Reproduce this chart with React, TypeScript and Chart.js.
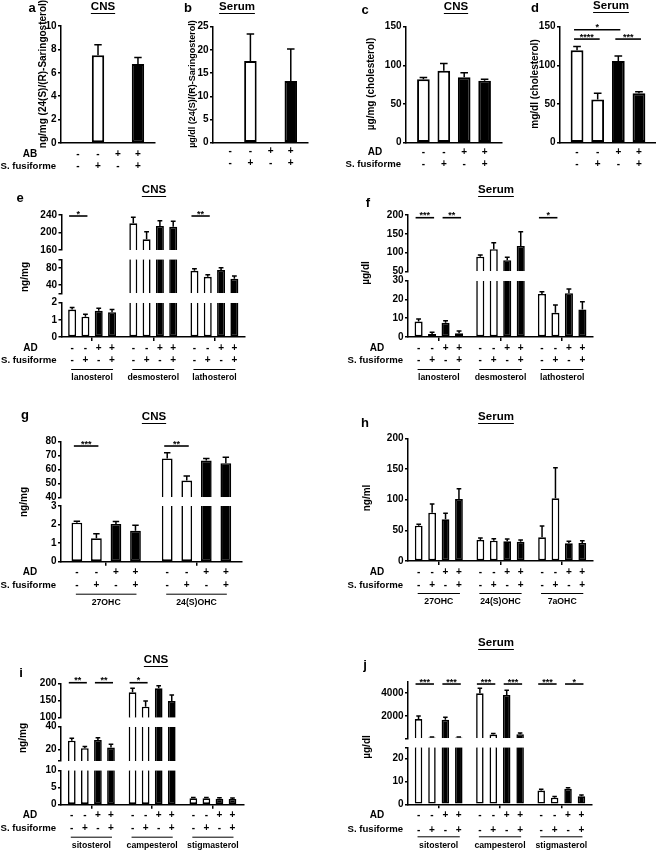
import React, { useEffect, useRef } from 'react';
import { Chart, registerables } from 'chart.js';

Chart.register(...registerables);

const FONT = '"Liberation Sans", Arial, Helvetica, sans-serif';
const PAGE_W = 656;
const PAGE_H = 853;

// ---- shared row markers ----
const adRow = ['-', '-', '+', '+'];
const sfRow = ['-', '+', '-', '+'];

// ---- panel a ----
const aGroups = [''];
const aValues = [[null], [7.5], [null], [6.75]];
const aErrors = [[null], [0.9], [null], [0.55]];
const aTicks = [[0, 2, 4, 6, 8, 10]];

// ---- panel b ----
const bGroups = [''];
const bValues = [[null], [17.6], [null], [13.3]];
const bErrors = [[null], [5.8], [null], [6.9]];
const bTicks = [[0, 5, 10, 15, 20, 25]];

// ---- panel c ----
const cGroups = [''];
const cValues = [[82], [93], [84.5], [80]];
const cErrors = [[2.3], [9.5], [6], [2]];
const cTicks = [[0, 50, 100, 150]];

// ---- panel d ----
const dGroups = [''];
const dValues = [[119.5], [56], [105.5], [64]];
const dErrors = [[5], [8], [6.5], [2]];
const dTicks = [[0, 50, 100, 150]];
const dBrackets = [
  { group: 0, from: 0, to: 2, level: 146, text: '*' },
  { group: 0, from: 0, to: 1, level: 134, text: '****' },
  { group: 0, from: 2, to: 3, level: 134, text: '***' },
];

// ---- panel e ----
const eGroups = ['lanosterol', 'desmosterol', 'lathosterol'];
const eValues = [[1.6, 221, 73], [1.18, 184.5, 58.8], [1.53, 215, 74.6], [1.45, 213, 54]];
const eErrors = [[0.12, 13.7, 4.6], [0.14, 17.4, 4.7], [0.14, 12, 5.4], [0.16, 12.6, 6.5]];
const eSegMin = [0, 20, 160];
const eSegMax = [2, 100, 240];
const eTicks = [[0, 1, 2], [20, 40, 80, 100], [160, 200, 240]];
const eTickLabels = [[0, 1, 2], [40, 80], [160, 200, 240]];
const eBrackets = [
  { group: 0, from: 0, to: 1, level: 237.7, text: '*' },
  { group: 2, from: 0, to: 1, level: 237.7, text: '**' },
];

// ---- panel f ----
const fGroups = ['lanosterol', 'desmosterol', 'lathosterol'];
const fValues = [[8.2, 89, 22.9], [1.6, 108.7, 12.9], [7.6, 79.6, 23.3], [2.0, 117.5, 14.7]];
const fErrors = [[1.4, 4.5, 1.2], [0.9, 17.6, 4.1], [1.1, 8, 2.3], [1.2, 38, 4.1]];
const fSegMin = [0, 50];
const fSegMax = [30, 200];
const fTicks = [[0, 10, 20, 30], [50, 100, 150, 200]];
const fBrackets = [
  { group: 0, from: 0, to: 1, level: 192.8, text: '***' },
  { group: 0, from: 2, to: 3, level: 192.8, text: '**' },
  { group: 2, from: 0, to: 1, level: 192.8, text: '*' },
];

// ---- panel g ----
const gGroups = ['27OHC', '24(S)OHC'];
const gValues = [[2.1, 68], [1.26, 52], [2.03, 66.4], [1.67, 64.5]];
const gErrors = [[0.08, 4.1], [0.25, 3.4], [0.13, 1.6], [0.29, 4.3]];
const gSegMin = [0, 40];
const gSegMax = [3, 80];
const gTicks = [[0, 1, 2, 3], [40, 50, 60, 70, 80]];
const gBrackets = [
  { group: 0, from: 0, to: 1, level: 76.9, text: '***' },
  { group: 1, from: 0, to: 1, level: 76.9, text: '**' },
];

// ---- panel h ----
const hGroups = ['27OHC', '24(S)OHC', '7aOHC'];
const hValues = [[57.6, 34.2, 38.6], [78.8, 33.2, 102.2], [68, 32.1, 28.8], [101, 31.5, 29.3]];
const hErrors = [[2.2, 3.3, 18.4], [14.1, 3.2, 50], [9.7, 3.8, 3.2], [16.9, 2.7, 3.8]];
const hTicks = [[0, 50, 100, 150, 200]];

// ---- panel i ----
const iGroups = ['sitosterol', 'campesterol', 'stigmasterol'];
const iValues = [[27.8, 173.8, 1.85], [21.2, 131.8, 1.85], [28.4, 185.4, 1.75], [21.7, 148.4, 1.65]];
const iErrors = [[2.1, 11.6, 0.25], [1.4, 16.6, 0.25], [2, 7.6, 0.25], [2.9, 17.5, 0.3]];
const iSegMin = [0, 10, 100];
const iSegMax = [10, 40, 200];
const iTicks = [[0, 5, 10], [10, 20, 40], [100, 150, 200]];
const iTickLabels = [[0, 5, 10], [20, 40], [100, 150, 200]];
const iBrackets = [
  { group: 0, from: 0, to: 1, level: 201.7, text: '**' },
  { group: 0, from: 2, to: 3, level: 201.7, text: '**' },
  { group: 1, from: 0, to: 1, level: 201.7, text: '*' },
];

// ---- panel j ----
const jGroups = ['sitosterol', 'campesterol', 'stigmasterol'];
const jValues = [[1716, 3982, 6.0], [90, 354, 2.9], [1653, 3832, 6.8], [90, 380, 3.5]];
const jErrors = [[266, 443, 0.6], [50, 88, 0.5], [213, 416, 0.5], [50, 116, 0.6]];
const jSegMin = [0, 25];
const jSegMax = [25, 5000];
const jTicks = [[0, 10, 20, 25], [25, 2000, 4000]];
const jTickLabels = [[0, 10, 20], [2000, 4000]];
const jBrackets = [
  { group: 0, from: 0, to: 1, level: 4796, text: '***' },
  { group: 0, from: 2, to: 3, level: 4796, text: '***' },
  { group: 1, from: 0, to: 1, level: 4796, text: '***' },
  { group: 1, from: 2, to: 3, level: 4796, text: '***' },
  { group: 2, from: 0, to: 1, level: 4796, text: '***' },
  { group: 2, from: 2, to: 3, level: 4796, text: '*' },
];

type Bracket = { group: number; from: number; to: number; level: number; text: string };
type PanelCfg = {
  id: string;
  groups: string[];
  values: (number | null)[][];
  errors: (number | null)[][];
  segMin: number[];
  segMax: number[];
  ticks: number[][];
  tickLabels: number[][];
  brackets: Bracket[];
  box: { left: number; right: number; top: number; bottom: number };
  segH: number[];
  gapH: number[];
  catPct: number;
  barPct: number;
  bw: number;
  title: string;
  titlePos: [number, number];
  letter: string;
  letterPos: [number, number];
  ylabel: string;
  ylabelPos: [number, number];
  ylabelSize: number;
  rowHeaders: string[] | null;
  rowDy: [number, number];
  groupNames: boolean;
  xTicks: boolean;
};

const PANELS: PanelCfg[] = [
  {
    id: 'a', groups: aGroups, values: aValues, errors: aErrors, segMin: [0], segMax: [10], ticks: aTicks, tickLabels: aTicks,
    brackets: [], box: { left: 61, right: 155, top: 26, bottom: 143 }, segH: [1], gapH: [],
    catPct: 0.85, barPct: 0.62, bw: 2, title: 'CNS', titlePos: [103, 7], letter: 'a', letterPos: [32, 8],
    ylabel: 'ng/mg (24(S)/(R)-Saringosterol)', ylabelPos: [43, 74], ylabelSize: 10,
    rowHeaders: ['AB', 'S. fusiforme'], rowDy: [11, 23], groupNames: false, xTicks: false,
  },
  {
    id: 'b', groups: bGroups, values: bValues, errors: bErrors, segMin: [0], segMax: [25], ticks: bTicks, tickLabels: bTicks,
    brackets: [], box: { left: 213, right: 308, top: 26.7, bottom: 142.7 }, segH: [1], gapH: [],
    catPct: 0.85, barPct: 0.62, bw: 2, title: 'Serum', titlePos: [237, 7], letter: 'b', letterPos: [188, 8],
    ylabel: 'µg/dl (24(S)/(R)-Saringosterol)', ylabelPos: [193, 84], ylabelSize: 9,
    rowHeaders: null, rowDy: [8.5, 20.5], groupNames: false, xTicks: false,
  },
  {
    id: 'c', groups: cGroups, values: cValues, errors: cErrors, segMin: [0], segMax: [150], ticks: cTicks, tickLabels: cTicks,
    brackets: [], box: { left: 406, right: 502, top: 26.7, bottom: 142.7 }, segH: [1], gapH: [],
    catPct: 0.85, barPct: 0.62, bw: 2, title: 'CNS', titlePos: [456, 7], letter: 'c', letterPos: [365, 10],
    ylabel: 'µg/mg (cholesterol)', ylabelPos: [371, 84], ylabelSize: 10,
    rowHeaders: ['AD', 'S. fusiforme'], rowDy: [9.5, 21.5], groupNames: false, xTicks: false,
  },
  {
    id: 'd', groups: dGroups, values: dValues, errors: dErrors, segMin: [0], segMax: [150], ticks: dTicks, tickLabels: dTicks,
    brackets: dBrackets, box: { left: 560, right: 656, top: 26.7, bottom: 142.7 }, segH: [1], gapH: [],
    catPct: 0.86, barPct: 0.62, bw: 2, title: 'Serum', titlePos: [611, 6], letter: 'd', letterPos: [535, 8],
    ylabel: 'mg/dl (cholesterol)', ylabelPos: [535, 84], ylabelSize: 10,
    rowHeaders: null, rowDy: [9.5, 21.5], groupNames: false, xTicks: false,
  },
  {
    id: 'e', groups: eGroups, values: eValues, errors: eErrors, segMin: eSegMin, segMax: eSegMax, ticks: eTicks, tickLabels: eTickLabels,
    brackets: eBrackets, box: { left: 61.5, right: 245, top: 215, bottom: 337 }, segH: [34.3, 34, 35], gapH: [9.4, 9.3],
    catPct: 0.87, barPct: 0.6, bw: 1.6, title: 'CNS', titlePos: [154, 190], letter: 'e', letterPos: [20, 198],
    ylabel: 'ng/mg', ylabelPos: [25, 277], ylabelSize: 10,
    rowHeaders: ['AD', 'S. fusiforme'], rowDy: [11.3, 23.5], groupNames: true, xTicks: true,
  },
  {
    id: 'f', groups: fGroups, values: fValues, errors: fErrors, segMin: fSegMin, segMax: fSegMax, ticks: fTicks, tickLabels: fTicks,
    brackets: fBrackets, box: { left: 408, right: 593, top: 215, bottom: 337 }, segH: [56.3, 56.3], gapH: [9.4],
    catPct: 0.875, barPct: 0.6, bw: 1.6, title: 'Serum', titlePos: [496, 190], letter: 'f', letterPos: [368, 203],
    ylabel: 'µg/dl', ylabelPos: [366, 273], ylabelSize: 10,
    rowHeaders: ['AD', 'S. fusiforme'], rowDy: [11.3, 23.5], groupNames: true, xTicks: true,
  },
  {
    id: 'g', groups: gGroups, values: gValues, errors: gErrors, segMin: gSegMin, segMax: gSegMax, ticks: gTicks, tickLabels: gTicks,
    brackets: gBrackets, box: { left: 61, right: 241.7, top: 441.7, bottom: 561.7 }, segH: [55.7, 55.6], gapH: [8.7],
    catPct: 0.865, barPct: 0.55, bw: 1.6, title: 'CNS', titlePos: [154, 417], letter: 'g', letterPos: [25, 415],
    ylabel: 'ng/mg', ylabelPos: [24, 502], ylabelSize: 10,
    rowHeaders: ['AD', 'S. fusiforme'], rowDy: [11, 23.5], groupNames: true, xTicks: true,
  },
  {
    id: 'h', groups: hGroups, values: hValues, errors: hErrors, segMin: [0], segMax: [200], ticks: hTicks, tickLabels: hTicks,
    brackets: [], box: { left: 408, right: 593, top: 438.3, bottom: 561 }, segH: [1], gapH: [],
    catPct: 0.87, barPct: 0.58, bw: 1.6, title: 'Serum', titlePos: [496, 417], letter: 'h', letterPos: [365, 423],
    ylabel: 'ng/ml', ylabelPos: [367, 498], ylabelSize: 10,
    rowHeaders: ['AD', 'S. fusiforme'], rowDy: [11.5, 24], groupNames: true, xTicks: true,
  },
  {
    id: 'i', groups: iGroups, values: iValues, errors: iErrors, segMin: iSegMin, segMax: iSegMax, ticks: iTicks, tickLabels: iTickLabels,
    brackets: iBrackets, box: { left: 61, right: 243.3, top: 683.3, bottom: 804.7 }, segH: [34.4, 34.3, 34.4], gapH: [9.3, 9],
    catPct: 0.86, barPct: 0.59, bw: 1.6, title: 'CNS', titlePos: [156, 660], letter: 'i', letterPos: [21, 673],
    ylabel: 'ng/mg', ylabelPos: [23, 738], ylabelSize: 10,
    rowHeaders: ['AD', 'S. fusiforme'], rowDy: [10.5, 23.6], groupNames: true, xTicks: true,
  },
  {
    id: 'j', groups: jGroups, values: jValues, errors: jErrors, segMin: jSegMin, segMax: jSegMax, ticks: jTicks, tickLabels: jTickLabels,
    brackets: jBrackets, box: { left: 408, right: 592, top: 681.7, bottom: 804.3 }, segH: [57, 56.6], gapH: [9],
    catPct: 0.875, barPct: 0.56, bw: 1.6, title: 'Serum', titlePos: [496, 643], letter: 'j', letterPos: [365, 665],
    ylabel: 'µg/dl', ylabelPos: [367, 747], ylabelSize: 10,
    rowHeaders: ['AD', 'S. fusiforme'], rowDy: [11.4, 25.5], groupNames: true, xTicks: true,
  },
];

const YW = 34;
const XH = 5;

function bold(size: number) {
  return `bold ${size}px ${FONT}`;
}

function makePlugin(P: PanelCfg) {
  return {
    id: 'annot_' + P.id,
    afterDraw(chart: any) {
      const ctx: CanvasRenderingContext2D = chart.ctx;
      const nSeg = P.segMin.length;
      const xScale = chart.scales.x;
      const barAt = (c: number, g: number) => {
        const el: any = chart.getDatasetMeta(c).data[g];
        let x = el ? el.x : NaN;
        let w = el ? el.width : NaN;
        if (!isFinite(x) || !isFinite(w)) {
          const catW = (xScale.right - xScale.left) / P.groups.length;
          const slot = (catW * P.catPct) / 4;
          x = xScale.getPixelForValue(g) + (c - 1.5) * slot;
          w = slot * P.barPct;
        }
        return { x, w };
      };
      const segOf = (v: number) => {
        for (let s = nSeg - 1; s > 0; s--) if (v > P.segMin[s]) return s;
        return 0;
      };
      ctx.save();
      ctx.fillStyle = '#000';
      ctx.strokeStyle = '#000';

      // error bars (mean + SEM)
      ctx.lineWidth = 1.5;
      for (let c = 0; c < 4; c++) {
        for (let g = 0; g < P.groups.length; g++) {
          const v = P.values[c][g];
          const e = P.errors[c][g];
          if (v == null || e == null) continue;
          const s = segOf(v);
          const sc = chart.scales['y' + s];
          const y0 = sc.getPixelForValue(Math.min(v, P.segMax[s]));
          const y1 = sc.getPixelForValue(Math.min(v + e, P.segMax[s]));
          const { x, w } = barAt(c, g);
          const cap = w * 0.3;
          ctx.beginPath();
          ctx.moveTo(x, y0);
          ctx.lineTo(x, y1);
          ctx.moveTo(x - cap, y1);
          ctx.lineTo(x + cap, y1);
          ctx.stroke();
        }
      }

      // significance brackets
      const topScale = chart.scales['y' + (nSeg - 1)];
      for (const br of P.brackets) {
        const b1 = barAt(br.from, br.group);
        const b2 = barAt(br.to, br.group);
        const y = topScale.getPixelForValue(br.level);
        const x1 = b1.x - 3;
        const x2 = b2.x + 2;
        ctx.lineWidth = 1.6;
        ctx.beginPath();
        ctx.moveTo(x1, y);
        ctx.lineTo(x2, y);
        ctx.stroke();
        ctx.font = bold(9);
        ctx.textAlign = 'center';
        ctx.textBaseline = 'alphabetic';
        ctx.fillText(br.text, (x1 + x2) / 2, y + 0.5);
      }

      // row markers
      const bottom = chart.chartArea.bottom;
      const rowY1 = bottom + P.rowDy[0];
      const rowY2 = bottom + P.rowDy[1];
      ctx.font = bold(10);
      ctx.textAlign = 'center';
      ctx.textBaseline = 'middle';
      for (let g = 0; g < P.groups.length; g++) {
        for (let c = 0; c < 4; c++) {
          const { x } = barAt(c, g);
          ctx.fillText(adRow[c], x, rowY1);
          ctx.fillText(sfRow[c], x, rowY2);
        }
      }
      if (P.rowHeaders) {
        const left = chart.chartArea.left;
        ctx.font = bold(10);
        ctx.textAlign = 'center';
        ctx.fillText(P.rowHeaders[0], left - 31, rowY1);
        ctx.font = bold(9.6);
        ctx.textAlign = 'right';
        ctx.fillText(P.rowHeaders[1], left - 5, rowY2);
      }

      // group names
      if (P.groupNames) {
        for (let g = 0; g < P.groups.length; g++) {
          const x1 = barAt(0, g).x;
          const x2 = barAt(3, g).x;
          ctx.lineWidth = 1;
          ctx.beginPath();
          ctx.moveTo(x1 - 1, bottom + 32.5);
          ctx.lineTo(x2 + 1, bottom + 32.5);
          ctx.stroke();
          ctx.font = bold(8.7);
          ctx.textAlign = 'center';
          ctx.textBaseline = 'middle';
          ctx.fillText(P.groups[g], (x1 + x2) / 2, bottom + 41);
        }
      }

      // title (underlined)
      ctx.font = bold(11.5);
      ctx.textAlign = 'center';
      ctx.textBaseline = 'middle';
      ctx.fillText(P.title, P.titlePos[0], P.titlePos[1]);
      const tw = ctx.measureText(P.title).width;
      ctx.lineWidth = 1;
      ctx.beginPath();
      ctx.moveTo(P.titlePos[0] - tw / 2, P.titlePos[1] + 6.5);
      ctx.lineTo(P.titlePos[0] + tw / 2, P.titlePos[1] + 6.5);
      ctx.stroke();

      // panel letter
      ctx.font = bold(13);
      ctx.fillText(P.letter, P.letterPos[0], P.letterPos[1]);

      // y label
      ctx.save();
      ctx.translate(P.ylabelPos[0], P.ylabelPos[1]);
      ctx.rotate(-Math.PI / 2);
      ctx.font = bold(P.ylabelSize);
      ctx.textAlign = 'center';
      ctx.textBaseline = 'middle';
      ctx.fillText(P.ylabel, 0, 0);
      ctx.restore();

      ctx.restore();
    },
  };
}

function buildConfig(P: PanelCfg) {
  const nSeg = P.segMin.length;
  const datasets: any[] = [];
  for (let s = 0; s < nSeg; s++) {
    const lo = P.segMin[s];
    const hi = P.segMax[s];
    for (let c = 0; c < 4; c++) {
      const vals = P.values[c];
      datasets.push({
        label: `${P.id}-${s}-${c}`,
        data: vals.map((v) => (v == null ? null : s > 0 && v <= lo ? null : [lo, Math.min(v, hi)])),
        yAxisID: 'y' + s,
        stack: 'c' + c,
        backgroundColor: c < 2 ? '#ffffff' : '#000000',
        borderColor: '#000000',
        borderSkipped: false,
        inflateAmount: 0,
        borderWidth: (ctx: any) => {
          const v = vals[ctx.dataIndex];
          return {
            left: P.bw,
            right: P.bw,
            top: v != null && v > hi ? 0 : P.bw,
            bottom: s === 0 ? P.bw : 0,
          };
        },
        categoryPercentage: P.catPct,
        barPercentage: P.barPct,
      });
    }
  }

  const scales: any = {
    x: {
      type: 'category',
      position: 'bottom',
      offset: true,
      grid: {
        display: P.xTicks,
        drawOnChartArea: false,
        drawTicks: true,
        tickLength: 4,
        offset: false,
        color: '#000',
        lineWidth: 1.5,
      },
      ticks: { display: false },
      border: { display: true, color: '#000', width: 1.5 },
      afterFit: (sc: any) => {
        sc.height = XH;
      },
    },
  };

  let order = 0;
  for (let s = 0; s < nSeg; s++) {
    const tickVals = P.ticks[s];
    const labelVals = P.tickLabels[s];
    scales['y' + s] = {
      type: 'linear',
      axis: 'y',
      position: 'left',
      stack: 'ys',
      stackWeight: P.segH[s],
      weight: order++,
      stacked: false,
      min: P.segMin[s],
      max: P.segMax[s],
      afterBuildTicks: (sc: any) => {
        sc.ticks = tickVals.map((v) => ({ value: v }));
      },
      ticks: {
        autoSkip: false,
        padding: 1.5,
        color: '#000',
        font: { family: FONT, size: 10, weight: 'bold' },
        callback: (v: any) => (labelVals.includes(Number(v)) ? String(v) : ''),
      },
      grid: {
        display: true,
        drawOnChartArea: false,
        drawTicks: true,
        tickLength: 3,
        color: '#000',
        lineWidth: 1.5,
      },
      border: { display: true, color: '#000', width: 1.5 },
      afterFit: (sc: any) => {
        sc.width = YW;
      },
    };
    if (s < nSeg - 1) {
      scales['gap' + s] = {
        type: 'linear',
        axis: 'y',
        position: 'left',
        stack: 'ys',
        stackWeight: P.gapH[s],
        weight: order++,
        display: true,
        ticks: { display: false },
        grid: { display: false },
        border: { display: false },
        afterFit: (sc: any) => {
          sc.width = YW;
        },
      };
    }
  }

  return {
    type: 'bar',
    data: { labels: P.groups, datasets },
    options: {
      responsive: false,
      animation: false,
      events: [],
      layout: {
        padding: {
          left: P.box.left - YW,
          right: PAGE_W - P.box.right,
          top: P.box.top,
          bottom: PAGE_H - P.box.bottom - XH,
        },
      },
      plugins: {
        legend: { display: false },
        tooltip: { enabled: false },
        title: { display: false },
      },
      scales,
    },
    plugins: [makePlugin(P)],
  };
}

function Panel({ cfg }: { cfg: PanelCfg }) {
  const ref = useRef<HTMLCanvasElement | null>(null);
  useEffect(() => {
    if (!ref.current) return;
    const chart = new Chart(ref.current, buildConfig(cfg) as any);
    return () => chart.destroy();
  }, [cfg]);
  return (
    <canvas
      ref={ref}
      width={PAGE_W}
      height={PAGE_H}
      style={{ position: 'absolute', left: 0, top: 0, width: PAGE_W, height: PAGE_H }}
    />
  );
}

export default function App() {
  return (
    <div
      style={{
        position: 'absolute',
        left: 0,
        top: 0,
        width: PAGE_W,
        height: PAGE_H,
        background: '#ffffff',
        overflow: 'hidden',
      }}
    >
      {PANELS.map((p) => (
        <Panel key={p.id} cfg={p} />
      ))}
    </div>
  );
}
